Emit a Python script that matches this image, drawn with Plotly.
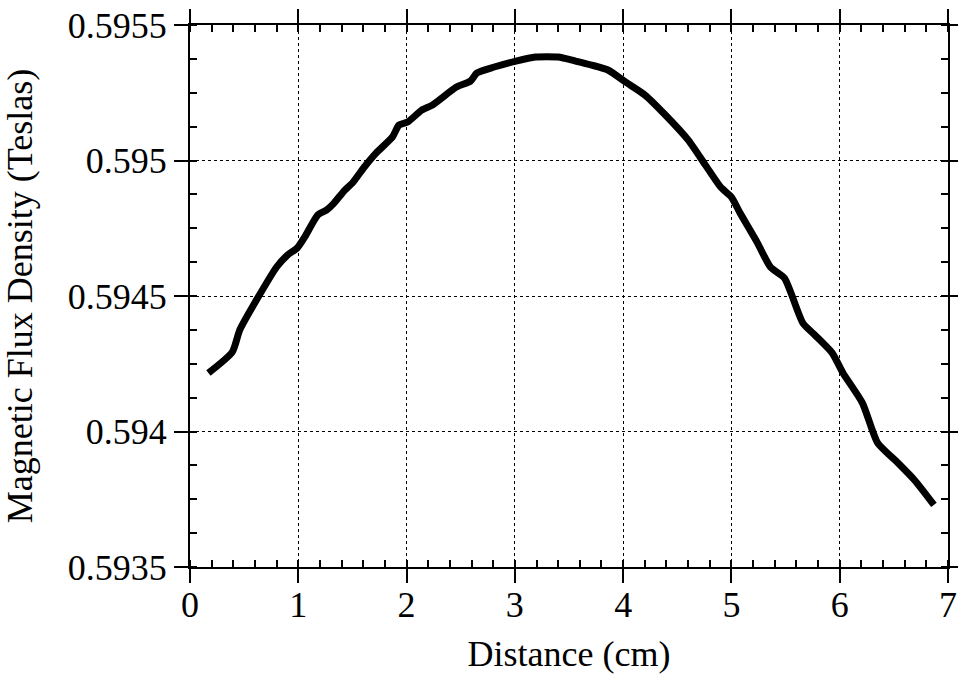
import plotly.graph_objects as go

distance = [0.17, 0.39, 0.46, 0.63, 0.80, 0.90, 0.99, 1.06, 1.18, 1.26, 1.33, 1.43,
            1.50, 1.61, 1.72, 1.87, 1.93, 2.01, 2.14, 2.24, 2.46, 2.59, 2.65, 2.81,
            3.01, 3.19, 3.40, 3.56, 3.71, 3.86, 4.02, 4.20, 4.39, 4.60, 4.76, 4.90,
            5.00, 5.08, 5.24, 5.36, 5.49, 5.55, 5.66, 5.77, 5.93, 6.03, 6.21, 6.35,
            6.53, 6.69, 6.87]
flux = [0.594216, 0.594293, 0.594375, 0.594496, 0.594607, 0.594651, 0.594677,
        0.594718, 0.594799, 0.594817, 0.594843, 0.594891, 0.594917, 0.594976,
        0.595028, 0.595087, 0.595131, 0.595142, 0.595186, 0.595205, 0.595271,
        0.595293, 0.595323, 0.595345, 0.595367, 0.595382, 0.595382, 0.595367,
        0.595352, 0.595334, 0.595290, 0.595242, 0.595168, 0.595076, 0.594983,
        0.594902, 0.594865, 0.594806, 0.594696, 0.594607, 0.594566, 0.594511,
        0.594400, 0.594356, 0.594290, 0.594216, 0.594105, 0.593958, 0.593887,
        0.593821, 0.593729]

y_ticks = [0.5935, 0.594, 0.5945, 0.595, 0.5955]
y_ticktext = ['0.5935', '0.594', '0.5945', '0.595', '0.5955']
x_ticks = [0, 1, 2, 3, 4, 5, 6, 7]

font = 'Liberation Serif, Times New Roman, serif'
fsize = 36

fig = go.Figure(go.Scatter(
    x=distance, y=flux, mode='lines',
    line=dict(color='black', width=7, shape='spline', smoothing=0.6),
    showlegend=False))

axis_common = dict(
    showline=True, linecolor='black', linewidth=2, mirror='ticks',
    ticks='outside', ticklen=14, tickwidth=2, tickcolor='black',
    showgrid=True, gridcolor='black', gridwidth=1, griddash='dot',
    zeroline=False, automargin=False, ticklabeloverflow='allow',
    tickfont=dict(family=font, size=fsize, color='black'),
)

fig.update_xaxes(
    range=[0, 7], tickvals=x_ticks, ticklabelstandoff=-9,
    minor=dict(dtick=0.2, ticks='inside', ticklen=7, tickwidth=1.5,
               tickcolor='black', showgrid=False),
    title=dict(text='Distance (cm)', font=dict(family=font, size=fsize, color='black'),
               standoff=17),
    **axis_common)
fig.update_yaxes(
    range=[0.5935, 0.5955], tickvals=y_ticks, ticktext=y_ticktext,
    minor=dict(dtick=0.000125, ticks='inside', ticklen=7, tickwidth=1.5,
               tickcolor='black', showgrid=False),
    title=dict(text='Magnetic Flux Density (Teslas)',
               font=dict(family=font, size=fsize, color='black'), standoff=32),
    **axis_common)

fig.update_layout(
    width=958, height=674,
    margin=dict(l=190, r=10, t=25, b=107),
    paper_bgcolor='white', plot_bgcolor='white',
)

# drop the default 8px page margin so the figure fills the window
fig.write_html('out.html', config={'displayModeBar': False},
               post_script="document.body.style.margin='0';")
